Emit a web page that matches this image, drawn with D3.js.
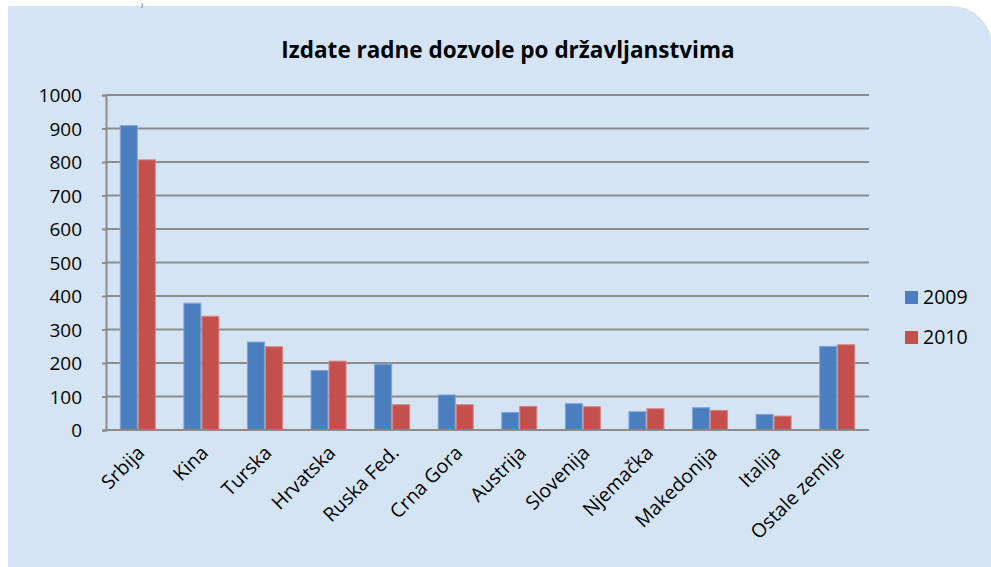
<!DOCTYPE html>
<html>
<head>
<meta charset="utf-8">
<script src="https://cdn.jsdelivr.net/npm/d3@7/dist/d3.min.js"></script>
<style>
  html, body { margin: 0; padding: 0; background: #ffffff; }
  svg { display: block; font-family: "Open Sans", "DejaVu Sans", sans-serif; }
</style>
</head>
<body>
<svg id="chart" width="991" height="567"></svg>
<script>
// Work permits issued, by citizenship
const categories = ["Srbija", "Kina", "Turska", "Hrvatska", "Ruska Fed.", "Crna Gora",
  "Austrija", "Slovenija", "Njemačka", "Makedonija", "Italija", "Ostale zemlje"];
const values2009 = [910, 380, 264, 179, 198, 106, 54, 80, 56, 68, 48, 251];
const values2010 = [808, 341, 250, 207, 77, 77, 72, 71, 65, 60, 43, 256];
const seriesNames = ["2009", "2010"];
const seriesColors = ["#4a7ebf", "#c3504d"];
const seriesEdges = ["#7ea4d4", "#d88583"];
const yTicks = [0, 100, 200, 300, 400, 500, 600, 700, 800, 900, 1000];
const title = "Izdate radne dozvole po državljanstvima";

const svg = d3.select("#chart");
const W = 991, H = 567;

// Panel background with a rounded top-right corner
const px = 8, py = 6, pr = 40;
svg.append("path")
  .attr("d", `M${px},${py} H${W + 1 - pr} A${pr},${pr} 0 0 1 ${W + 1},${py + pr} V${H} H${px} Z`)
  .attr("fill", "#d4e4f4");

// Tail of the preceding page text
svg.append("text")
  .attr("x", 141).attr("y", 7)
  .attr("font-size", 6).attr("fill", "#222")
  .text(")");

const plot = { left: 106, right: 869, top: 95, bottom: 430 };

const y = d3.scaleLinear().domain([0, 1000]).range([plot.bottom, plot.top]);
const x = d3.scaleBand().domain(categories).range([plot.left, plot.right]).padding(0);
const barW = x.bandwidth() * 0.283;
const xs = d3.scaleBand().domain(seriesNames).range([0, barW * 2]);

// Title
svg.append("text")
  .attr("x", 508).attr("y", 58)
  .attr("text-anchor", "middle")
  .attr("font-size", 22.5).attr("font-weight", "bold").attr("fill", "#000")
  .text(title);

// Horizontal gridlines
svg.append("g")
  .selectAll("line")
  .data(yTicks.filter(d => d > 0))
  .join("line")
  .attr("x1", plot.left).attr("x2", plot.right)
  .attr("y1", d => y(d)).attr("y2", d => y(d))
  .attr("stroke", "#8c8c8c").attr("stroke-width", 2);

// Bars
const rows = categories.map((c, i) => ({ c, v: [values2009[i], values2010[i]] }));
const groups = svg.append("g")
  .selectAll("g")
  .data(rows)
  .join("g")
  .attr("transform", d => `translate(${x(d.c) + x.bandwidth() / 2 - barW},0)`);

groups.selectAll("rect")
  .data(d => d.v.map((v, k) => ({ v, k })))
  .join("rect")
  .attr("x", d => xs(seriesNames[d.k]) + 0.5)
  .attr("width", xs.bandwidth() - 1)
  .attr("y", d => y(d.v) + 0.5)
  .attr("height", d => y(0) - y(d.v) - 0.5)
  .attr("fill", d => seriesColors[d.k])
  .attr("stroke", d => seriesEdges[d.k])
  .attr("stroke-width", 1);

// Y axis
const yAxis = svg.append("g")
  .attr("transform", `translate(${plot.left},0)`)
  .call(d3.axisLeft(y).tickValues(yTicks).tickSize(4).tickPadding(20).tickFormat(d3.format("d")));
yAxis.select(".domain").attr("stroke", "#8c8c8c").attr("stroke-width", 2);
yAxis.selectAll(".tick line").attr("stroke", "#8c8c8c").attr("stroke-width", 2);
yAxis.selectAll(".tick text")
  .attr("font-size", 19).attr("fill", "#000")
  .attr("font-family", "'Open Sans', sans-serif")
  .attr("dy", "0.35em");

// X axis
const xAxis = svg.append("g")
  .attr("transform", `translate(0,${plot.bottom})`)
  .call(d3.axisBottom(x).tickSize(0).tickPadding(0));
xAxis.select(".domain").attr("stroke", "#8c8c8c").attr("stroke-width", 2)
  .attr("d", `M${plot.left},0H${plot.right}`);
xAxis.selectAll(".tick text")
  .attr("font-size", 19.5).attr("fill", "#000")
  .attr("font-family", "'Open Sans', sans-serif")
  .attr("text-anchor", "end")
  .attr("dy", 0)
  .attr("transform", "translate(8,24) rotate(-45)");

// Legend
const legend = svg.append("g")
  .selectAll("g")
  .data(seriesNames)
  .join("g")
  .attr("transform", (d, i) => `translate(905,${291 + i * 40})`);
legend.append("rect")
  .attr("width", 13).attr("height", 13)
  .attr("fill", (d, i) => seriesColors[i]);
legend.append("text")
  .attr("x", 18).attr("y", 13)
  .attr("font-size", 19.5).attr("fill", "#000")
  .text(d => d);
</script>
</body>
</html>
